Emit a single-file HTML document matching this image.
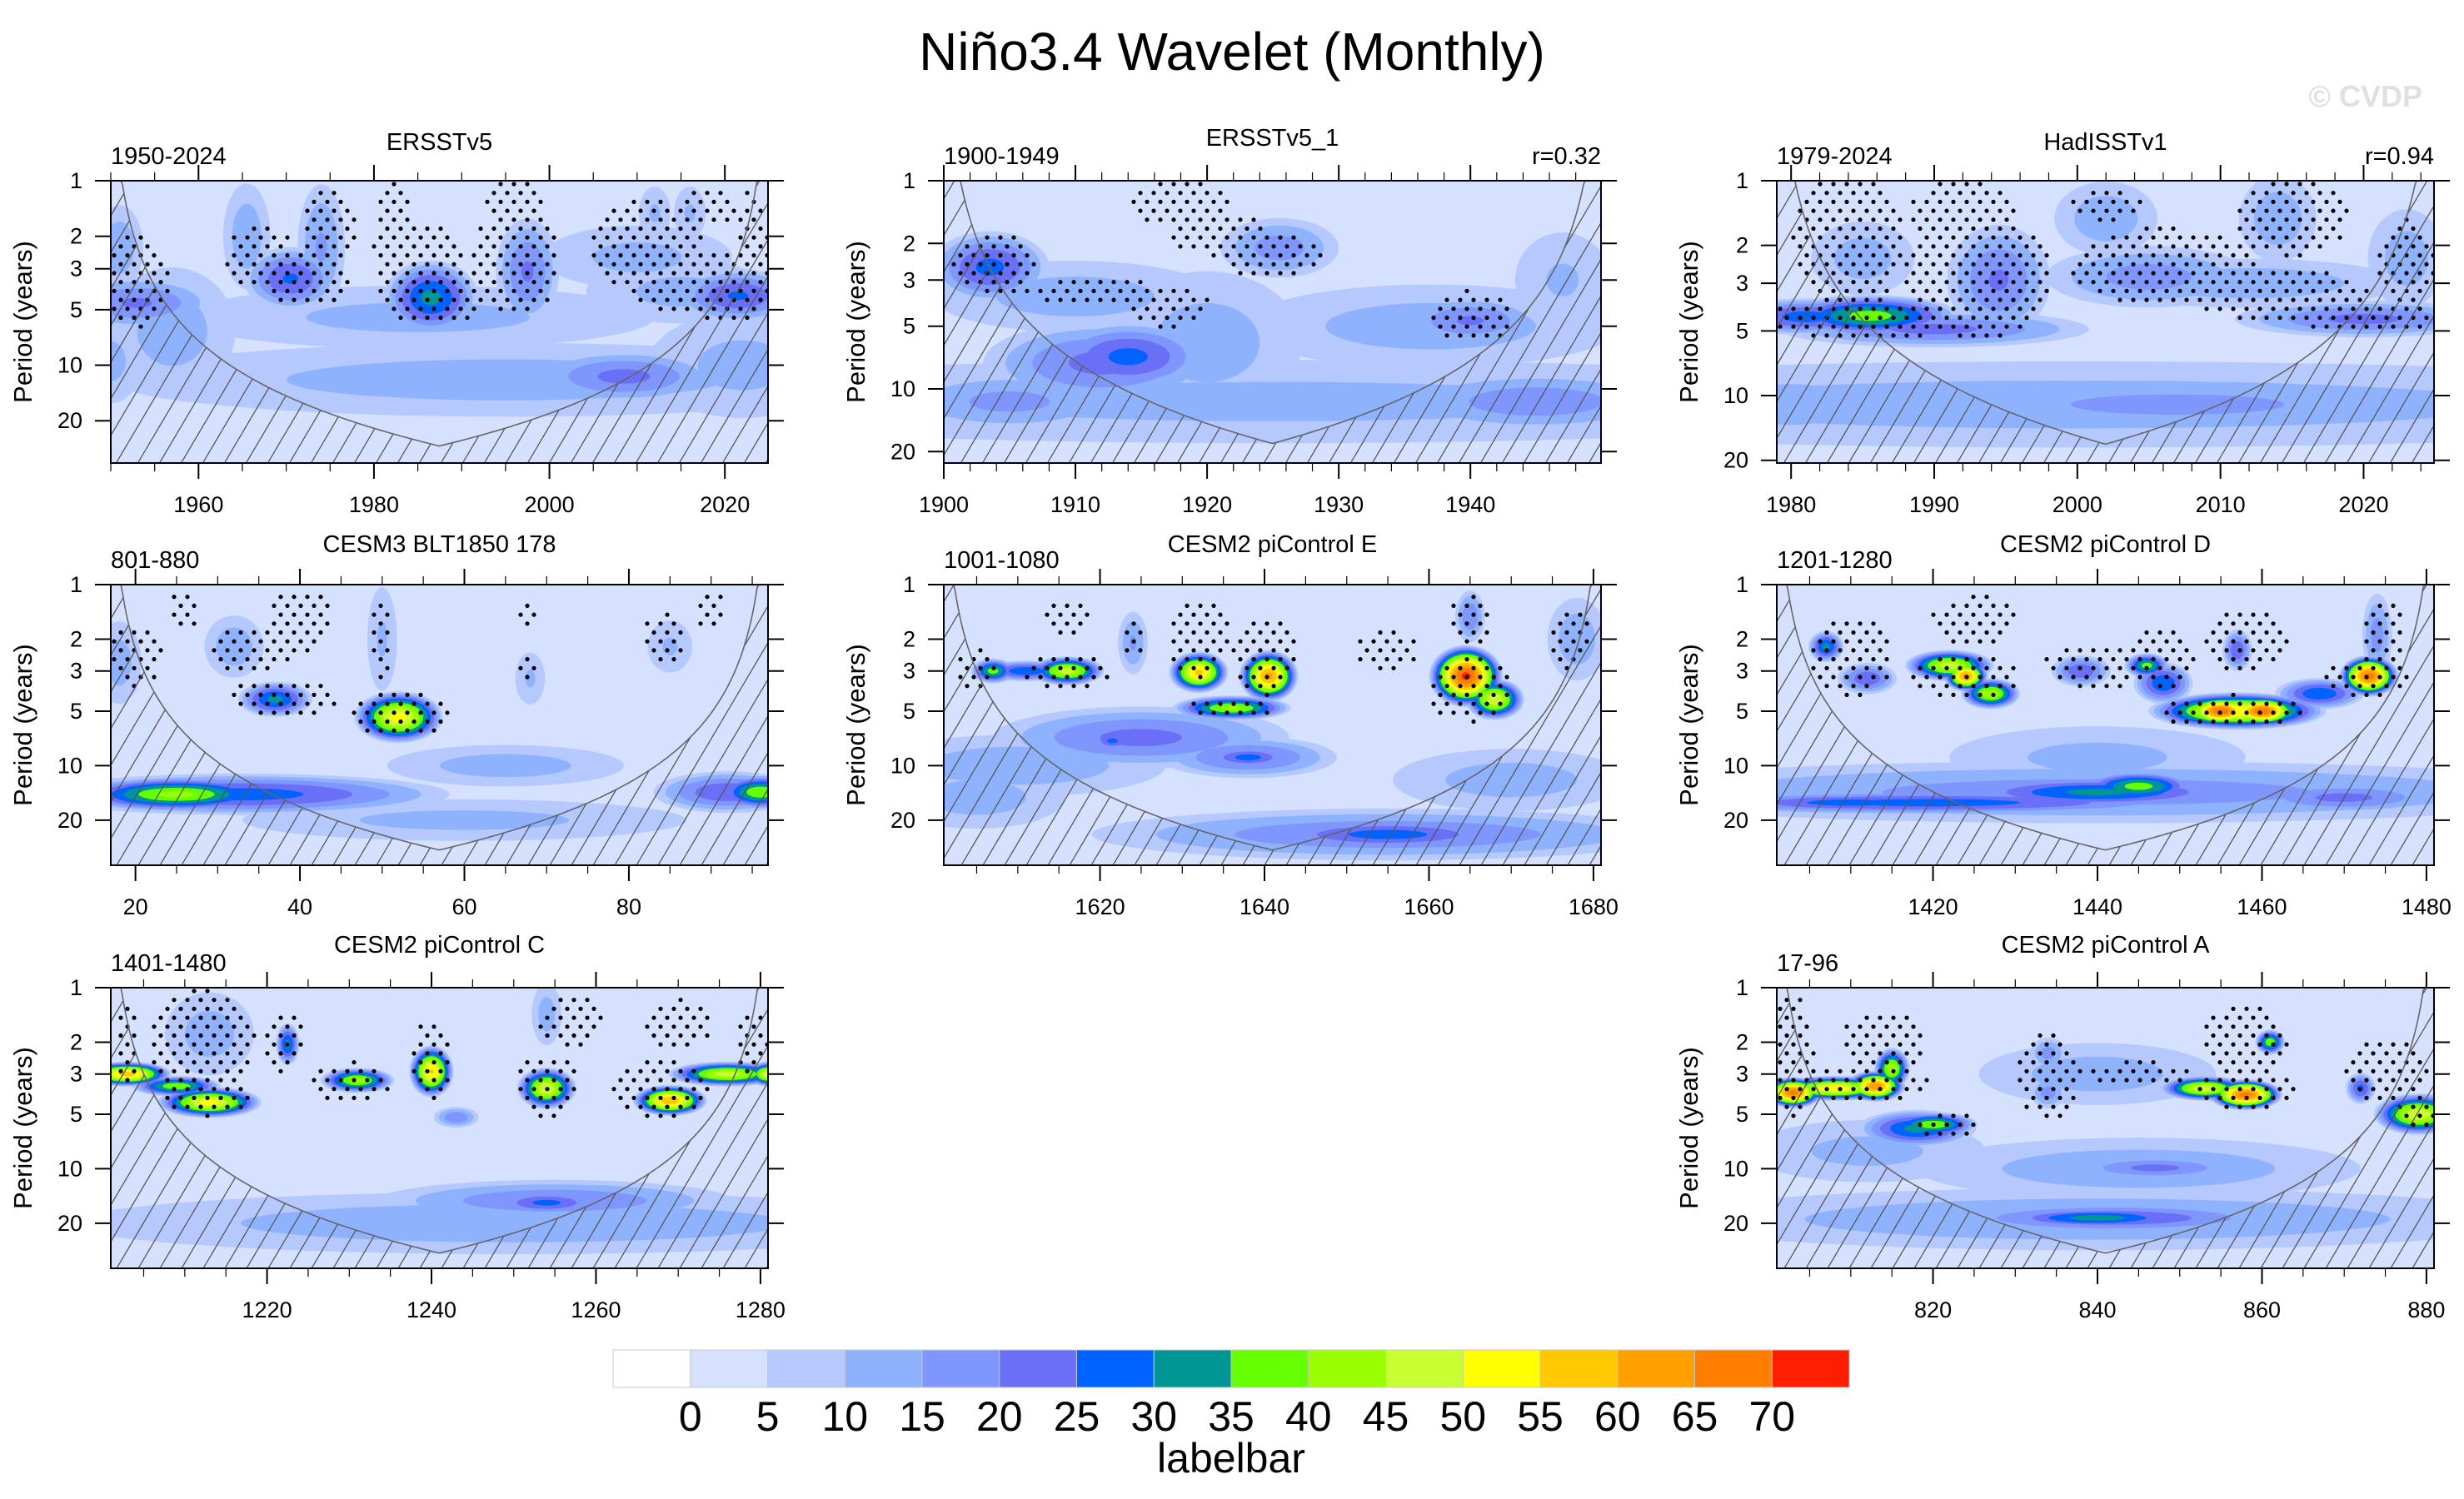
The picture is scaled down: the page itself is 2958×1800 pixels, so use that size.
<!DOCTYPE html>
<html><head><meta charset="utf-8"><title>Niño3.4 Wavelet (Monthly)</title>
<style>
html,body{margin:0;padding:0;background:#fff;}
svg{display:block;font-family:"Liberation Sans",Arial,sans-serif;}
</style></head>
<body>
<svg id="fig" xmlns="http://www.w3.org/2000/svg" width="2958" height="1800" viewBox="0 0 2958 1800">
<defs>
<pattern id="hatch" patternUnits="userSpaceOnUse" width="26" height="44">
<line x1="-13" y1="66" x2="39" y2="-22" stroke="#555" stroke-width="1.3"/>
<line x1="13" y1="66" x2="65" y2="-22" stroke="#555" stroke-width="1.3"/>
<line x1="-39" y1="66" x2="13" y2="-22" stroke="#555" stroke-width="1.3"/>
</pattern>
</defs>
<text x="1479" y="84" font-size="64" text-anchor="middle" fill="#000">Niño3.4 Wavelet (Monthly)</text>
<text x="2908" y="128" font-size="36" font-weight="bold" text-anchor="end" fill="#e0e0e0">© CVDP</text>
<g id="panels"></g>
<g id="labelbar"></g>
</svg>
<script>
// ---- colour scale ----
const levels = [5,10,15,20,25,30,35,40,45,50,55,60,65,70];
const levelColors = ['#B5C9FF','#8FB2FF','#7F96FF','#6A6FF8','#0063FF','#009696','#66FF00','#99FF00','#C7FF33','#FFFF00','#FFC800','#FFA000','#FF7D00','#FF1E00'];
const barLabels = ['0','5','10','15','20','25','30','35','40','45','50','55','60','65','70'];
const barColors = ['#FFFFFF','#D6E1FF','#B5C9FF','#8FB2FF','#7F96FF','#6A6FF8','#0063FF','#009696','#66FF00','#99FF00','#C7FF33','#FFFF00','#FFC800','#FFA000','#FF7D00','#FF1E00'];
const yTickValues = [1,2,3,5,10,20];

// ---- power features: [year, period, halfWidthYears, halfHeightLog2, peakPower] ----
const blobsERSST = [
 [1985,5.5,15,0.3,12],[1995,12,25,0.35,13],[2008.5,11.5,6,0.25,22],[2022,10,6,0.5,12],[1957,6.5,4,0.6,13],[1950,9.5,2,0.4,12],
 [1986.5,4.3,3,0.35,32],[1970.5,3.4,3,0.3,26],[1953,4.6,5,0.25,21],[2021.5,4.2,4,0.25,26],[1997.5,3.1,2,0.5,21],
 [1974,2.3,1.5,0.6,16],[1965.5,2.0,1.5,0.5,14],[2010,2.6,6,0.3,12],[2015,4,6,0.3,12],[2012,1.5,1,0.25,11],[2016,1.5,1,0.25,11],[1951,2.3,1.5,0.4,14]];
const blobsERSST1 = [
 [1910,3.6,6,0.3,13],[1925,11.5,30,0.35,12],[1920,6,4,0.6,13],[1937,5,8,0.35,13],[1947,3,2,0.4,11],
 [1903.5,2.6,2.5,0.3,27],[1912,7.5,5,0.35,22],[1914,7,3.5,0.3,27],[1925.5,2.1,2.5,0.25,18],[1940,4.7,3,0.2,21],
 [1905,11.5,5,0.25,17],[1945,11.5,6,0.25,19]];
const blobsHadISST = [
 [2000,11,30,0.35,13],[1980,11,4,0.3,13],[2007,11,10,0.2,18],[1990,4.9,6,0.15,22],[1985,2.3,2,0.3,13],
 [1981,4.3,3,0.15,28],[1985.5,4.25,3.5,0.17,38],[1994.5,2.9,2,0.45,21],[2005,2.8,4,0.25,18],[2012,3.0,6,0.2,14],
 [2020,4.4,5,0.15,22],[2002,1.5,2,0.3,14],[2014,1.5,1.5,0.35,14],[2023,2.3,1.5,0.4,13]];
const blobsC4 = [
 [65,10,8,0.2,13],[60,20,15,0.2,12],[33,14.4,14,0.2,28],[25,14.4,7,0.17,42],[92,14,5,0.2,25],[96,14,3,0.17,40],
 [52,5.4,3,0.25,53],[37,4.3,2.5,0.17,32],[32,2.2,2,0.3,14],[50,2.0,1,0.5,11],[68,3.3,1,0.25,11],[85,2.2,1.5,0.25,11],[18,2.7,1.5,0.4,13]];
const blobsC5 = [
 [1610,10,10,0.3,14],[1605,15,6,0.3,13],[1670,12,8,0.3,13],[1655,24,20,0.25,20],[1655,24,9,0.15,28],
 [1625,7,10,0.3,22],[1621.5,7.3,1.5,0.1,27],[1638,9,6,0.2,22],[1638,9,3,0.1,28],
 [1664.5,3.2,2.5,0.3,72],[1668,4.3,2,0.2,50],[1640.5,3.2,2,0.25,62],[1632,3.05,2,0.2,57],[1636,4.8,4,0.12,42],
 [1616,3.0,2.5,0.14,48],[1607,3.0,1.5,0.12,38],[1611,3.0,3,0.1,30],[1624,2.1,1,0.3,16],[1665,1.5,1,0.25,20],[1678,2.0,2,0.4,14]];
const blobsC6 = [
 [1440,14,35,0.3,18],[1440,9,10,0.3,12],[1420,16,20,0.12,28],[1410,16,10,0.1,28],[1440,14,10,0.15,32],[1445,13,4,0.15,38],[1470,15,7,0.15,22],
 [1457,5,6,0.18,55],[1455,5,2.5,0.15,70],[1460,5,2.5,0.15,70],[1473,3.2,2,0.2,68],
 [1422,2.8,3,0.15,48],[1427,4,2,0.15,45],[1424,3.2,1.5,0.15,63],[1448,3.5,2,0.2,30],[1446,2.8,1.5,0.12,38],
 [1467,4,3,0.15,30],[1407,2.2,1.2,0.15,32],[1412,3.3,2,0.15,25],[1438,3.0,2,0.15,25],[1457,2.3,1,0.2,25],[1474,1.9,1,0.4,18]];
const blobsC7 = [
 [1250,20,30,0.3,14],[1255,15,12,0.2,20],[1254,15.4,4,0.12,27],[1243,5.2,1.5,0.1,20],[1213,1.8,3,0.4,13],[1254,1.4,1,0.3,13],
 [1203,3.0,3,0.12,58],[1209,3.5,3,0.1,40],[1213,4.3,3.5,0.15,53],[1222.5,2.05,0.8,0.2,32],[1240,2.9,1.5,0.25,56],
 [1231,3.25,2.5,0.12,43],[1254,3.6,2,0.2,50],[1269,4.2,2.5,0.15,60],[1276,3.0,4,0.12,48],[1281,3.0,1.5,0.12,52]];
const blobsC8 = [
 [840,19,30,0.3,15],[842,18.7,12,0.15,25],[840,18.7,7,0.1,33],[845,10,15,0.3,14],[847,9.9,6,0.12,22],[812,8,8,0.3,12],
 [840,3,8,0.3,13],[834,2.3,1.2,0.15,18],[834,3.8,1.2,0.15,18],
 [808,3.6,4,0.12,55],[803,3.8,2,0.15,68],[813,3.5,2,0.15,65],[815,2.8,1.2,0.2,45],[818,6,4,0.18,32],[820,5.7,3,0.12,40],
 [853,3.6,3,0.12,50],[858,3.9,2.5,0.15,68],[861,2.0,1,0.12,40],[879,5,3,0.2,50],[872,3.6,1,0.15,27]];

// ---- significance (stippled) regions: [year, period, halfWidthYears, halfHeightLog2] ----
const sigERSST = [[1953,3.5,3,0.7],[1967,2.6,3,0.5],[1972,3.5,4,0.4],[1975,1.8,2.5,0.6],[1985,2.5,4,0.5],[1987,4.2,5,0.45],[1996,2.8,4,0.8],[1996,1.3,3,0.3],[2011,2.2,5,0.7],[2017,3.6,6,0.5],[2020,4.3,4,0.35],[2018,1.4,3,0.3],[2023,2.5,1.5,1],[1982,1.5,1.5,0.5]];
const sigERSST1 = [[1904,2.5,2.5,0.4],[1912,3.4,5,0.15],[1917,4,2.5,0.3],[1918,1.3,3,0.3],[1921,1.8,3,0.3],[1925,2.3,3,0.3],[1940,4.5,2.5,0.35]];
const sigHadISST = [[1984,1.9,3,0.9],[1993,2.8,4,0.8],[1985,4.4,6,0.25],[1992,1.5,3,0.5],[2006,2.5,5,0.5],[2014,3.4,5,0.35],[2015,1.5,3,0.5],[2020,4.3,4,0.2],[2023,2.5,1.5,0.6],[2002,1.3,2,0.2]];
const sigC4 = [[20,2.5,2.5,0.5],[34,2.3,4,0.35],[38,4.2,5,0.3],[40,1.6,3,0.5],[52,5.2,5,0.35],[50,2,1,0.6],[84,2,2,0.4],[90,1.4,1.5,0.3],[68,1.4,1,0.2],[68,3,1,0.2],[26,1.4,1.5,0.3]];
const sigC5 = [[1605,3,2,0.35],[1616,3,4,0.3],[1616,1.5,2,0.3],[1632,2,3,0.6],[1640,2.5,3,0.6],[1636,4.8,4,0.15],[1655,2.3,3,0.3],[1665,3.8,4,0.5],[1665,1.6,2,0.4],[1677,2,2,0.5],[1624,2,1,0.3]];
const sigC6 = [[1410,2.5,4,0.6],[1424,3.3,5,0.35],[1425,1.6,4,0.4],[1440,2.8,5,0.35],[1448,2.5,3,0.5],[1456,5,7,0.25],[1458,2,4,0.5],[1473,3.3,4,0.3],[1475,1.8,2,0.5]];
const sigC7 = [[1212,2.0,5,0.8],[1213,4,4,0.3],[1203,2,1,0.6],[1222,2,2,0.5],[1230,3.3,4,0.3],[1240,2.5,2,0.6],[1254,3.5,3,0.5],[1257,1.5,3,0.4],[1268,3.6,5,0.45],[1270,1.6,3,0.4],[1279,2,1.5,0.5]];
const sigC8 = [[803,2.5,2,1.0],[812,3.4,6,0.3],[814,2,4,0.5],[822,5.8,3,0.2],[834,3,3,0.7],[845,3,5,0.2],[858,3.7,5,0.3],[858,2,4,0.6],[875,2.8,4,0.5],[879,5,2,0.25]];

const panels = [
 {id:'ersstv5',left:133,top:217,bottom:556,x0:1950,x1:2024.92,pmax:33.9,major:20,minor:5,first:1960,lab:'1950-2024',title:'ERSSTv5',r:'',blobs:blobsERSST,sig:sigERSST,row:0},
 {id:'ersstv5-1',left:1133,top:217,bottom:556,x0:1900,x1:1949.92,pmax:22.7,major:10,minor:2,first:1900,lab:'1900-1949',title:'ERSSTv5_1',r:'r=0.32',blobs:blobsERSST1,sig:sigERSST1,row:0,tOff:-5},
 {id:'hadisstv1',left:2133,top:217,bottom:556,x0:1979,x1:2024.92,pmax:20.6,major:10,minor:2,first:1980,lab:'1979-2024',title:'HadISSTv1',r:'r=0.94',blobs:blobsHadISST,sig:sigHadISST,row:0},
 {id:'cesm3-blt1850',left:133,top:702,bottom:1039,x0:17,x1:96.92,pmax:35.5,major:20,minor:5,first:20,lab:'801-880',title:'CESM3 BLT1850 178',r:'',blobs:blobsC4,sig:sigC4,row:1},
 {id:'cesm2-picontrol-e',left:1133,top:702,bottom:1039,x0:1601,x1:1680.92,pmax:35.5,major:20,minor:5,first:1620,lab:'1001-1080',title:'CESM2 piControl E',r:'',blobs:blobsC5,sig:sigC5,row:1},
 {id:'cesm2-picontrol-d',left:2133,top:702,bottom:1039,x0:1401,x1:1480.92,pmax:35.5,major:20,minor:5,first:1420,lab:'1201-1280',title:'CESM2 piControl D',r:'',blobs:blobsC6,sig:sigC6,row:1},
 {id:'cesm2-picontrol-c',left:133,top:1186,bottom:1523,x0:1201,x1:1280.92,pmax:35.5,major:20,minor:5,first:1220,lab:'1401-1480',title:'CESM2 piControl C',r:'',blobs:blobsC7,sig:sigC7,row:2},
 {id:'cesm2-picontrol-a',left:2133,top:1186,bottom:1523,x0:801,x1:880.92,pmax:35.5,major:20,minor:5,first:820,lab:'17-96',title:'CESM2 piControl A',r:'',blobs:blobsC8,sig:sigC8,row:2}
];
const labelY = [197,682,1166];
const titleY = [180,663,1144];
const W = 789;
const SX = 1.8, SY = 1.9, DSX = 1.3, DSY = 1.2;
const NS = 'http://www.w3.org/2000/svg';
function mk(tag, attrs, parent){const e=document.createElementNS(NS,tag);for(const k in attrs)e.setAttribute(k,attrs[k]);if(parent)parent.appendChild(e);return e;}

const root = document.getElementById('panels');
panels.forEach((P,pi)=>{
  const H = P.bottom-P.top, L2max=Math.log2(P.pmax);
  const xs = t => P.left + (t-P.x0)/(P.x1-P.x0)*W;
  const ys = p => P.top + Math.log2(p)/L2max*H;
  const pxYear = W/(P.x1-P.x0), pxLog = H/L2max;
  const g = mk('g',{},root);
  
  
  const clip = mk('clipPath',{id:'clip'+pi},g);
  mk('rect',{x:P.left,y:P.top,width:W,height:H},clip);
  const plot = mk('g',{'clip-path':'url(#clip'+pi+')'},g);
  
  
  mk('rect',{x:P.left,y:P.top,width:W,height:H,fill:'#D6E1FF'},plot);
  levels.forEach((t,k)=>{
    P.blobs.forEach(b=>{
      if(b[4]<=t) return;
      const f = Math.pow((b[4]-t)/(b[4]-5),0.6);
      const e = mk('ellipse',{cx:xs(b[0]).toFixed(1),cy:ys(b[1]).toFixed(1),rx:(b[2]*SX*pxYear*f).toFixed(1),ry:(b[3]*SY*pxLog*f).toFixed(1),fill:levelColors[k]},plot);
      
      
    });
  });
  // stipple dots
  const dx=16, dy=10.7;
  let row=0;
  for(let y=P.top+4;y<P.bottom;y+=dy,row++){
    for(let x=P.left+4+(row%2?8:0);x<P.left+W;x+=dx){
      const t=P.x0+(x-P.left)/pxYear, lp=(y-P.top)/pxLog;
      let inside=false;
      for(const s of P.sig){const u=(t-s[0])/(s[2]*DSX), v=(lp-Math.log2(s[1]))/(s[3]*DSY); if(u*u+v*v<1){inside=true;break;}}
      if(inside){
        const d=mk('circle',{cx:x.toFixed(1),cy:y.toFixed(1),r:2.6,fill:'#000'},plot);
        
        
      }
    }
  }
  // cone of influence
  let pts=[];
  for(let x=P.left;x<=P.left+W+0.1;x+=2){
    const t=P.x0+(x-P.left)/pxYear;
    const d=Math.min(t-P.x0+0.1,P.x1-t+0.1);
    const p=Math.min(Math.max(1,0.73*d),P.pmax);
    pts.push(x.toFixed(1)+','+ys(p).toFixed(1));
  }
  const hp = mk('path',{d:'M'+pts.join(' L')+' L'+(P.left+W)+','+P.bottom+' L'+P.left+','+P.bottom+' Z',fill:'url(#hatch)',stroke:'none'},plot);
  
  
  const cl = mk('polyline',{points:pts.join(' '),fill:'none',stroke:'#666',"stroke-width":1.6},plot);
  
  
  const fr = mk('rect',{x:P.left,y:P.top,width:W,height:H,fill:'none',stroke:'#000','stroke-width':2},g);
  
  
  // y ticks
  yTickValues.forEach(v=>{
    if(v>P.pmax) return;
    const y=ys(v);
    mk('line',{x1:P.left-19,y1:y,x2:P.left,y2:y,stroke:'#000','stroke-width':2},g);
    mk('line',{x1:P.left+W,y1:y,x2:P.left+W+19,y2:y,stroke:'#000','stroke-width':2},g);
    const tl=mk('text',{x:P.left-34,y:y+9,'font-size':27,'text-anchor':'end',fill:'#000'},g);
    tl.textContent=v;
    
    
  });
  const yt=mk('text',{x:0,y:0,'font-size':31,'text-anchor':'middle',fill:'#000',transform:'translate('+(P.left-95)+','+((P.top+P.bottom)/2)+') rotate(-90)'},g);
  yt.textContent='Period (years)';
  
  
  // x ticks
  const startMinor=Math.ceil(P.x0/P.minor)*P.minor;
  for(let t=startMinor;t<=P.x1;t+=P.minor){
    const x=xs(t), isMaj=((t-P.first)%P.major===0);
    const len=isMaj?19:10;
    mk('line',{x1:x,y1:P.top-len,x2:x,y2:P.top,stroke:'#000','stroke-width':isMaj?2:1.2},g);
    mk('line',{x1:x,y1:P.bottom,x2:x,y2:P.bottom+len,stroke:'#000','stroke-width':isMaj?2:1.2},g);
    if(isMaj){
      const xl=mk('text',{x:x,y:P.bottom+59,'font-size':27,'text-anchor':'middle',fill:'#000'},g);
      xl.textContent=t;
      
      
    }
  }
  const ll=mk('text',{x:P.left,y:labelY[P.row],'font-size':29,fill:'#000'},g);
  ll.textContent=P.lab;
  
  
  const tt=mk('text',{x:P.left+W/2,y:titleY[P.row]+(P.tOff||0),'font-size':29,'text-anchor':'middle',fill:'#000'},g);
  tt.textContent=P.title;
  
  
  if(P.r){
    const rt=mk('text',{x:P.left+W,y:labelY[P.row],'font-size':29,'text-anchor':'end',fill:'#000'},g);
    rt.textContent=P.r;
    
    
  }
});

// labelbar
const lb=document.getElementById('labelbar');
const bx0=736, bx1=2220, by0=1621, by1=1666, bw=(bx1-bx0)/barColors.length;
barColors.forEach((c,i)=>{
  const r=mk('rect',{x:(bx0+i*bw).toFixed(1),y:by0,width:bw.toFixed(1),height:by1-by0,fill:c,stroke:'#c8c8c8','stroke-width':1},lb);
  
  
});
barLabels.forEach((s,i)=>{
  const t=mk('text',{x:(bx0+(i+1)*bw).toFixed(1),y:1718,'font-size':50,'text-anchor':'middle',fill:'#000'},lb);
  t.textContent=s;
  
  
});
const lt=mk('text',{x:(bx0+bx1)/2,y:1768,'font-size':50,'text-anchor':'middle',fill:'#000'},lb);
lt.textContent='labelbar';


</script>
</body></html>
